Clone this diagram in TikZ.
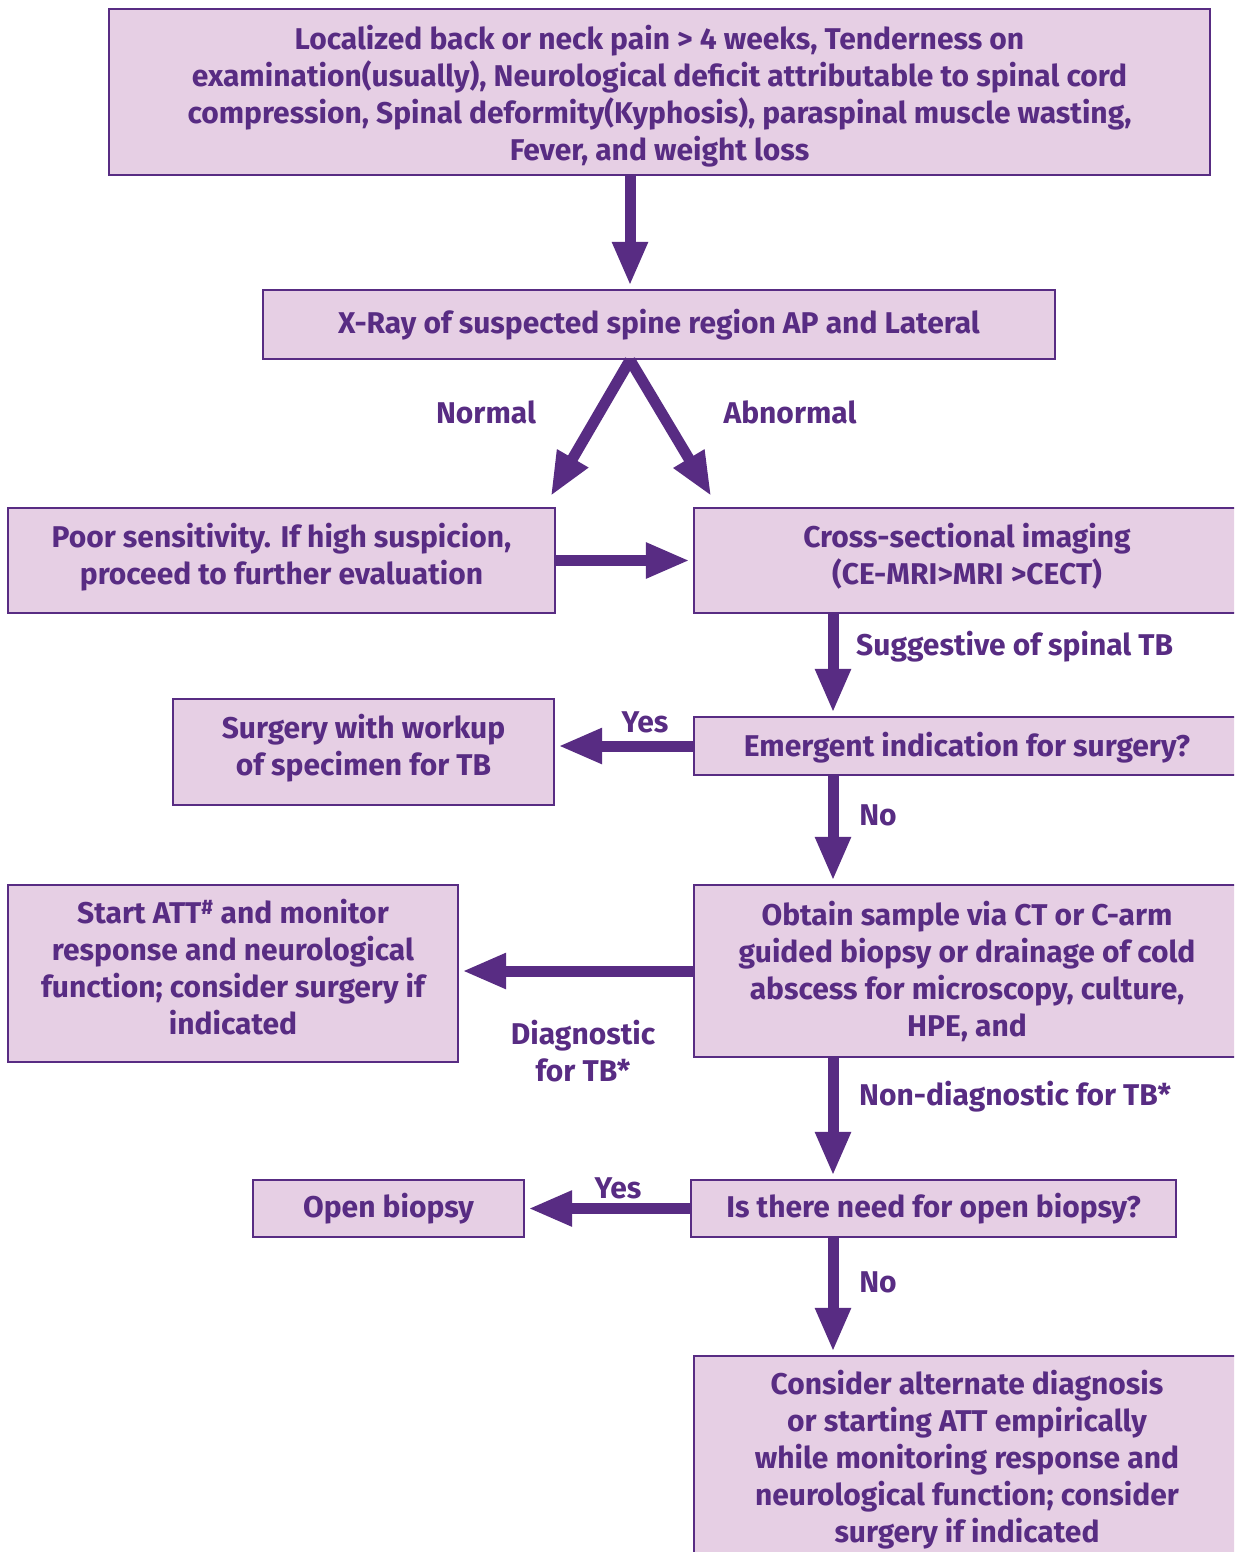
\documentclass[tikz,border=0pt]{standalone}
\usepackage{fontspec}
\setmainfont{Fira Sans}
\usetikzlibrary{arrows.meta,calc}
\definecolor{pur}{HTML}{582C83}
\definecolor{lav}{HTML}{E6CFE4}
\newcommand\mydn[1]{\rule{0pt}{#1}}
\newcommand\myup{\rule[-14pt]{0pt}{14pt}}
\begin{document}
\begin{tikzpicture}[x=1pt,y=-1pt,
  box/.style={draw=pur,fill=lav,line width=2.2pt,align=center,inner sep=0pt,
    text=pur,font=\fontsize{30}{37}\selectfont\bfseries},
  lbl/.style={text=pur,font=\fontsize{30}{37}\selectfont\bfseries,align=center,inner sep=0pt},
  arr/.style={draw=pur,line width=11pt,shorten >=3pt,-{Triangle[length=44pt,width=33pt]}}]
\useasboundingbox (0,0) rectangle (1234,1552);
\fill[white] (0,0) rectangle (1234,1552);
\clip (0,0) rectangle (1234,1552);
\node[box,minimum width=1101pt,minimum height=166pt] (top) at (659.5,92)
 {\mydn{33pt}Localized back or neck pain > 4 weeks, Tenderness on\\examination(usually), Neurological deficit attributable to spinal cord\\compression, Spinal deformity(Kyphosis), paraspinal muscle wasting,\\Fever, and weight loss};
\node[box,minimum width=792pt,minimum height=69pt] (xray) at (659,324.5)
 {X-Ray of suspected spine region AP and Lateral};
\node[box,minimum width=547pt,minimum height=105pt] (poor) at (281.5,560.5)
 {Poor sensitivity. If high suspicion,\\proceed to further evaluation\myup};
\node[box,minimum width=546pt,minimum height=105pt] (cross) at (967,560.5)
 {Cross-sectional imaging\\(CE-MRI>MRI >CECT)\myup};
\node[box,minimum width=381pt,minimum height=106pt] (surg) at (363.5,752)
 {Surgery with workup\\of specimen for TB\myup};
\node[box,minimum width=546pt,minimum height=58pt] (emerg) at (967,746)
 {\mydn{28pt}Emergent indication for surgery?};
\node[box,minimum width=450pt,minimum height=177pt] (start) at (233,973.5)
 {Start ATT\textsuperscript{\#} and monitor\\response and neurological\\function; consider surgery if\\indicated\myup};
\node[box,minimum width=546pt,minimum height=172pt] (obtain) at (967,971)
 {Obtain sample via CT or C-arm\\guided biopsy or drainage of cold\\abscess for microscopy, culture,\\HPE, and};
\node[box,minimum width=271pt,minimum height=57pt] (openb) at (388.5,1208.5)
 {Open biopsy};
\node[box,minimum width=485pt,minimum height=57pt] (need) at (933.5,1208.5)
 {Is there need for open biopsy?};
\node[box,minimum width=546pt,minimum height=208pt] (cons) at (967,1460)
 {Consider alternate diagnosis\\or starting ATT empirically\\while monitoring response and\\neurological function; consider\\surgery if indicated};
\coordinate (vA) at (630,0);
\coordinate (vB) at (833,0);
\draw[arr] (top.south -| vA) -- (xray.north -| vA);
\draw[arr] (xray.south -| vA) -- ($(poor.north east)+(-7,-8)$);
\draw[arr] (xray.south -| vA) -- ($(cross.north west)+(20,-8)$);
\draw[arr] (poor.east) -- (cross.west);
\draw[arr] (cross.south -| vB) -- (emerg.north -| vB);
\draw[arr] (emerg.west) -- (surg.east |- emerg.west);
\draw[arr] (emerg.south -| vB) -- (obtain.north -| vB);
\draw[arr] (obtain.west) -- (start.east |- obtain.west);
\draw[arr] (obtain.south -| vB) -- (need.north -| vB);
\draw[arr] (need.west) -- (openb.east |- need.west);
\draw[arr] (need.south -| vB) -- (cons.north -| vB);
\node[lbl] (lnormal) at (486,412) {Normal};
\node[lbl] (labn) at (790,412) {Abnormal};
\node[lbl,anchor=west] (lsugg) at (856,647) {Suggestive of spinal TB};
\node[lbl] (lyes1) at (645,722) {Yes};
\node[lbl] (lno1) at (878,815) {No};
\node[lbl] (ldiag) at (583,1051) {Diagnostic\\for TB*};
\node[lbl,anchor=west] (lnond) at (859,1097) {Non-diagnostic for TB*};
\node[lbl] (lyes2) at (618,1188) {Yes};
\node[lbl] (lno2) at (878,1282) {No};
\end{tikzpicture}
\end{document}
